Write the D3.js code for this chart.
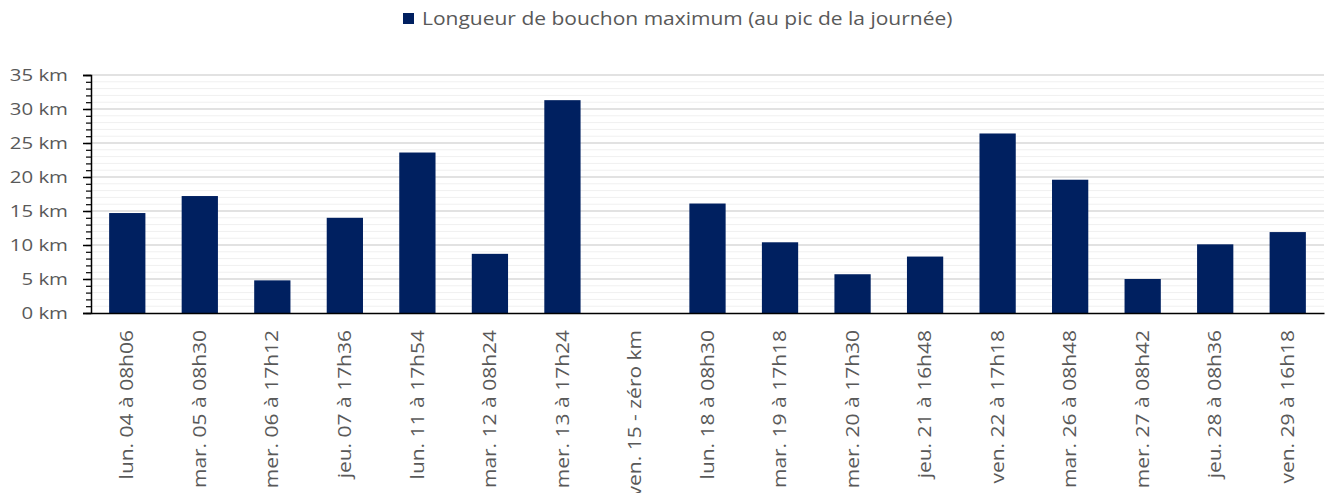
<script src="https://cdn.jsdelivr.net/npm/d3@7"></script>

<style>
  body { margin: 0; background: #fff; }
  text { font-family: "Open Sans", Lato, sans-serif; fill: #595959; }
</style>

<svg id="vis"></svg>

<script>
    // Categories (day + time of the peak)
    var jours = [
        "lun. 04 à 08h06", "mar. 05 à 08h30", "mer. 06 à 17h12", "jeu. 07 à 17h36",
        "lun. 11 à 17h54", "mar. 12 à 08h24", "mer. 13 à 17h24", "ven. 15 - zéro km",
        "lun. 18 à 08h30", "mar. 19 à 17h18", "mer. 20 à 17h30", "jeu. 21 à 16h48",
        "ven. 22 à 17h18", "mar. 26 à 08h48", "mer. 27 à 08h42", "jeu. 28 à 08h36",
        "ven. 29 à 16h18"
    ]

    // Max length of traffic jam, km
    var longueurs = [14.7, 17.2, 4.8, 14.0, 23.6, 8.7, 31.3, 0,
                     16.1, 10.4, 5.7, 8.3, 26.4, 19.6, 5.0, 10.1, 11.9]

    var yTicks = [0, 5, 10, 15, 20, 25, 30, 35]
    var serie = "Longueur de bouchon maximum (au pic de la journée)"

    var W = 1327, H = 493
    var margin = { left: 91, right: 3, top: 75, bottom: 180 }
    var stretch = 1.2   // the source text is a bit wider than tall

    var svg = d3.select("#vis")
        .attr("width", W)
        .attr("height", H)

    var g = svg.append("g")
        .attr("transform", "translate(" + margin.left + "," + margin.top + ")")

    var width = W - margin.left - margin.right
    var height = H - margin.top - margin.bottom

    var xScale = d3.scaleBand()
        .domain(jours)
        .range([0, width])
        .paddingInner(0.5)
        .paddingOuter(0.25)

    var yScale = d3.scaleLinear()
        .domain([0, 35])
        .range([height, 0])

    // Minor gridlines (every km)
    g.append("g")
        .selectAll("line")
        .data(d3.range(1, 36).filter(function(d) { return d % 5 != 0 }))
        .join("line")
        .attr("x1", 0).attr("x2", width)
        .attr("y1", function(d) { return yScale(d) })
        .attr("y2", function(d) { return yScale(d) })
        .attr("stroke", "#f0f0f0")
        .attr("stroke-width", 1)

    // Major gridlines
    g.append("g")
        .selectAll("line")
        .data(yTicks.slice(1))
        .join("line")
        .attr("x1", 0).attr("x2", width)
        .attr("y1", function(d) { return yScale(d) })
        .attr("y2", function(d) { return yScale(d) })
        .attr("stroke", "#d9d9d9")
        .attr("stroke-width", 1.3)

    // Bars
    g.append("g")
        .selectAll("rect")
        .data(longueurs)
        .join("rect")
        .attr("x", function(d, i) { return xScale(jours[i]) })
        .attr("y", function(d) { return yScale(d) })
        .attr("width", xScale.bandwidth())
        .attr("height", function(d) { return height - yScale(d) })
        .attr("fill", "#002060")

    // Minor ticks on y axis
    g.append("g")
        .call(d3.axisLeft(yScale).tickValues(d3.range(0, 36)).tickSize(5).tickFormat(""))
        .call(function(a) { a.select(".domain").remove() })
        .selectAll("line").attr("stroke", "#000").attr("stroke-width", 1.2)

    // Major ticks + labels
    var yAxis = g.append("g")
        .call(d3.axisLeft(yScale).tickValues(yTicks).tickSize(8)
            .tickFormat(function(d) { return d + " km" }))
    yAxis.select(".domain").attr("stroke", "#000").attr("stroke-width", 1.5)
    yAxis.selectAll("line").attr("stroke", "#000").attr("stroke-width", 1.5)
    yAxis.selectAll("text")
        .style("font-size", "17px")
        .attr("fill", "#595959")
        .attr("x", 0)
        .attr("transform", "translate(-23,0) scale(" + stretch + ",1)")

    // X axis
    var xAxis = g.append("g")
        .attr("transform", "translate(0," + height + ")")
        .call(d3.axisBottom(xScale).tickSize(0).tickSizeOuter(0))
    xAxis.select(".domain").attr("stroke", "#000").attr("stroke-width", 1.5)
    xAxis.selectAll("text")
        .style("font-size", "17.5px")
        .attr("fill", "#595959")
        .attr("transform", "rotate(-90) translate(-17,0) scale(" + stretch + ",1)")
        .attr("text-anchor", "end")
        .attr("x", 0)
        .attr("y", 0)
        .attr("dy", "0.35em")

    // Legend
    var legend = svg.append("g")
        .attr("transform", "translate(403,13)")
    legend.append("rect")
        .attr("width", 11).attr("height", 11)
        .attr("fill", "#002060")
    legend.append("text")
        .attr("transform", "translate(19,12) scale(" + stretch + ",1)")
        .style("font-size", "17.5px")
        .text(serie)
</script>
